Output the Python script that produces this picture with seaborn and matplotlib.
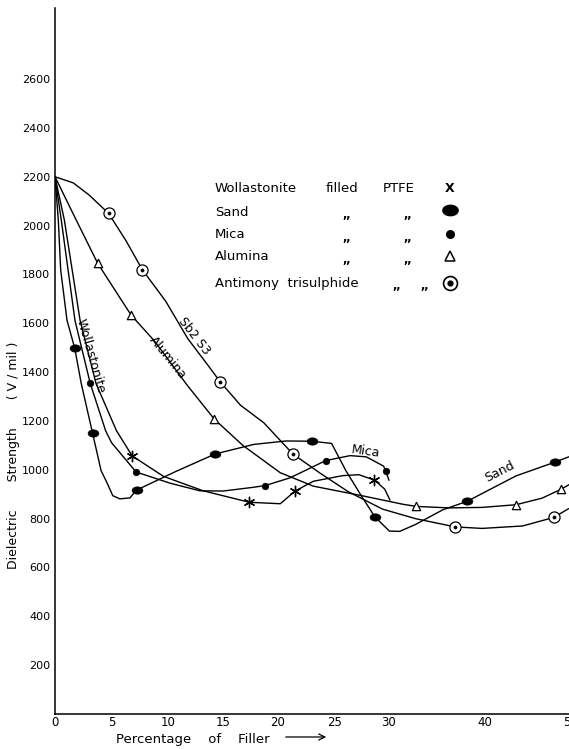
import numpy as np
import pandas as pd
import matplotlib
matplotlib.use("Agg")
import matplotlib.pyplot as plt
import seaborn as sns
from matplotlib.path import Path

# ---------------- data ----------------
x_ticks = [0, 5, 10, 15, 20, 25, 30, 35, 40, 45, 50]
x_tick_labels = ["0", "5", "10", "15", "20", "25", "30", "", "40", "", "50"]
y_ticks = [200, 400, 600, 800, 1000, 1200, 1400, 1600, 1800, 2000, 2200, 2400, 2600]
y_tick_labels = [str(v) for v in y_ticks]

# Antimony trisulphide (Sb2 S3)
sb_curve_x = [0, 1.6, 3.0, 4.7, 6.25, 7.7, 9.8, 11.8, 13.6, 14.75, 16.6, 18.7, 21.3, 23.7,
              26.2, 29.4, 32.7, 36.85, 39.7, 44.0, 47.8, 49.7]
sb_curve_y = [2200, 2175, 2125, 2050, 1938, 1820, 1690, 1537, 1430, 1360, 1264, 1193, 1065, 986,
              911, 839, 800, 766, 760, 770, 805, 841]
sb_mark_x = [4.7, 7.7, 14.75, 21.3, 36.85, 47.8]
sb_mark_y = [2050, 1820, 1360, 1065, 766, 805]

# Alumina
al_curve_x = [0, 1.87, 3.75, 6.7, 8.8, 11.7, 14.2, 16.8, 20.2, 23.1, 27.6, 31.4, 32.8, 36.2,
              39.7, 43.3, 46.3, 48.7, 49.8]
al_curve_y = [2200, 2022, 1845, 1634, 1527, 1349, 1208, 1100, 988, 933, 893, 859, 850, 844,
              846, 857, 884, 920, 940]
al_mark_x = [3.75, 6.7, 14.2, 32.8, 43.3, 48.7]
al_mark_y = [1845, 1634, 1208, 850, 857, 920]

# Sand
sa_curve_x = [0, 0.29, 0.5, 1.05, 1.73, 2.3, 3.3, 4.04, 4.6, 5.07, 5.7, 6.6, 7.2, 10.7, 14.3,
              17.8, 20.7, 23.0, 24.7, 26.0, 27.5, 28.7, 30.04, 31.1, 32.7, 35.5, 38.1, 43.3,
              47.9, 49.8]
sa_curve_y = [2200, 2023, 1818, 1613, 1498, 1354, 1149, 997, 943, 894, 881, 885, 917, 993, 1065,
              1104, 1118, 1117, 1108, 997, 889, 807, 749, 748, 776, 836, 871, 975, 1031, 1054]
sa_mark_x = [1.73, 3.3, 7.2, 14.3, 23.0, 28.7, 38.1, 47.9]
sa_mark_y = [1498, 1149, 917, 1065, 1117, 807, 871, 1031]

# Mica
mi_curve_x = [0, 0.55, 1.75, 3.09, 4.44, 4.96, 7.15, 10.2, 12.9, 15.0, 17.7, 18.8, 21.05, 24.2,
              26.4, 27.9, 29.5, 29.7, 30.0]
mi_curve_y = [2200, 2023, 1612, 1354, 1160, 1111, 991, 945, 914, 913, 928, 935, 967, 1038,
              1058, 1053, 1015, 995, 957]
mi_mark_x = [3.09, 7.15, 18.8, 24.2, 29.7]
mi_mark_y = [1354, 991, 935, 1038, 995]

# Wollastonite
wo_curve_x = [0, 0.82, 2.2, 3.6, 5.4, 6.8, 9.6, 13.2, 17.4, 20.2, 21.5, 23.1, 25.7, 27.2,
              28.65, 29.6, 30.1]
wo_curve_y = [2200, 2023, 1612, 1353, 1160, 1057, 973, 914, 867, 861, 913, 953, 976, 980,
              958, 921, 876]
wo_mark_x = [6.8, 17.4, 21.5, 28.65]
wo_mark_y = [1057, 867, 913, 958]

legend_names = ["Wollastonite", "Sand", "Mica", "Alumina", "Antimony  trisulphide"]

# ---------------- styling ----------------
sns.set_theme(style="white")
plt.rcParams["font.family"] = ["DejaVu Sans"]

W, H = 569, 749
fig = plt.figure(figsize=(W / 100, H / 100), dpi=100)
fig.patch.set_facecolor("white")

# hand-drawn, non-uniform x axis: pixel position of each tick mark
tick_px = np.array([55, 112, 168, 223, 278, 335, 389, 438, 485, 532, 571], float)
TX = np.array(x_ticks, float)


def fwd(x):
    x = np.asarray(x, float)
    y = np.interp(x, TX, tick_px)
    y = np.where(x < TX[0], tick_px[0] + (x - TX[0]) * (tick_px[1] - tick_px[0]) / (TX[1] - TX[0]), y)
    y = np.where(x > TX[-1], tick_px[-1] + (x - TX[-1]) * (tick_px[-1] - tick_px[-2]) / (TX[-1] - TX[-2]), y)
    return y


def inv(p):
    p = np.asarray(p, float)
    x = np.interp(p, tick_px, TX)
    x = np.where(p < tick_px[0], TX[0] + (p - tick_px[0]) * (TX[1] - TX[0]) / (tick_px[1] - tick_px[0]), x)
    x = np.where(p > tick_px[-1], TX[-1] + (p - tick_px[-1]) * (TX[-1] - TX[-2]) / (tick_px[-1] - tick_px[-2]), x)
    return x


x0_px, x1_px = 55, 571
y0_px, y1_px = 714, 8
ax = fig.add_axes([x0_px / W, (H - y0_px) / H, (x1_px - x0_px) / W, (y0_px - y1_px) / H])
ax.set_facecolor("white")
ax.set_xscale("function", functions=(fwd, inv))
ax.set_xlim(0, 50)
ax.set_ylim(0, (y0_px - y1_px) / 0.2442)

for s in ["top", "right"]:
    ax.spines[s].set_visible(False)
for s in ["left", "bottom"]:
    ax.spines[s].set_color("black")
    ax.spines[s].set_linewidth(1.1)

ax.set_xticks(x_ticks)
ax.set_xticklabels(x_tick_labels)
ax.set_yticks(y_ticks)
ax.set_yticklabels(y_tick_labels)
ax.tick_params(axis="x", direction="in", length=5, width=1, pad=1.5, labelsize=8.5, colors="black")
ax.tick_params(axis="y", direction="in", length=9, width=1, pad=3.5, labelsize=8, colors="black")
ax.set_xlabel("")
ax.set_ylabel("")

LW = 1.0
curves = [(sb_curve_x, sb_curve_y), (al_curve_x, al_curve_y), (sa_curve_x, sa_curve_y),
          (mi_curve_x, mi_curve_y), (wo_curve_x, wo_curve_y)]
for cx, cy in curves:
    sns.lineplot(x=cx, y=cy, sort=False, estimator=None, color="black", linewidth=LW, ax=ax)

t = np.linspace(0, 2 * np.pi, 40)
ellipse = Path(np.column_stack([np.cos(t), 0.68 * np.sin(t)]), closed=True)
asterisk = (6, 2, 0)

# markers
sns.scatterplot(x=sb_mark_x, y=sb_mark_y, marker="o", s=64, facecolor="white", edgecolor="black",
                linewidth=0.9, ax=ax, zorder=5)
sns.scatterplot(x=sb_mark_x, y=sb_mark_y, marker="o", s=5, color="black", edgecolor="black",
                linewidth=0.5, ax=ax, zorder=6)
sns.scatterplot(x=al_mark_x, y=al_mark_y, marker="^", s=36, facecolor="white", edgecolor="black",
                linewidth=0.9, ax=ax, zorder=5)
sns.scatterplot(x=sa_mark_x, y=sa_mark_y, marker=ellipse, s=60, color="black", edgecolor="black",
                linewidth=0.5, ax=ax, zorder=5)
sns.scatterplot(x=mi_mark_x, y=mi_mark_y, marker="o", s=22, color="black", edgecolor="black",
                linewidth=0.5, ax=ax, zorder=5)
sns.scatterplot(x=wo_mark_x, y=wo_mark_y, marker=asterisk, s=55, color="black", edgecolor="black",
                linewidth=1.0, ax=ax, zorder=5)


def ftext(px, py, s, **kw):
    kw.setdefault("fontsize", 9)
    kw.setdefault("color", "black")
    return fig.text(px / W, 1 - py / H, s, **kw)


# axis titles
ftext(14, 455, "Dielectric       Strength       ( V / mil )", rotation=90, ha="center",
      va="center", fontsize=9)
ftext(116, 740, "Percentage    of    Filler", ha="left", va="center", fontsize=9.5)
ax.annotate("", xy=(329 / W, 1 - 737 / H), xytext=(283 / W, 1 - 737 / H), xycoords="figure fraction",
            textcoords="figure fraction",
            arrowprops=dict(arrowstyle="->", color="black", lw=0.9, mutation_scale=11))

# curve labels
ftext(91, 356, "Wollastonite", rotation=-74, ha="center", va="center", rotation_mode="anchor")
ftext(168, 358, "Alumina", rotation=-51, ha="center", va="center", rotation_mode="anchor")
ftext(194, 336, "Sb2 S3", rotation=-52, ha="center", va="center", rotation_mode="anchor")
ftext(366, 452, "Mica", rotation=-8, ha="center", va="center", rotation_mode="anchor")
ftext(500, 472, "Sand", rotation=27, ha="center", va="center", rotation_mode="anchor")

# legend block
rows_y = [188, 212, 235, 257, 283]
for name, ry in zip(legend_names, rows_y):
    ftext(215, ry, name, ha="left", va="center", fontsize=9.5)
ftext(326, 188, "filled", ha="left", va="center", fontsize=9.5)
ftext(383, 188, "PTFE", ha="left", va="center", fontsize=9.5)
for ry in rows_y[1:4]:
    ftext(347, ry + 3, ",,", ha="center", va="center", fontsize=8, fontweight="bold")
    ftext(408, ry + 3, ",,", ha="center", va="center", fontsize=8, fontweight="bold")
ftext(397, 286, ",,", ha="center", va="center", fontsize=8, fontweight="bold")
ftext(425, 286, ",,", ha="center", va="center", fontsize=8, fontweight="bold")
ftext(450, 188, "X", ha="center", va="center", fontsize=9, fontweight="bold")

lx = 450 / W
fig.lines.append(plt.Line2D([lx], [1 - 210 / H], transform=fig.transFigure, marker=ellipse,
                            markersize=11, color="black", linestyle="none"))
fig.lines.append(plt.Line2D([lx], [1 - 234 / H], transform=fig.transFigure, marker="o",
                            markersize=5.5, color="black", linestyle="none"))
fig.lines.append(plt.Line2D([lx], [1 - 256 / H], transform=fig.transFigure, marker="^",
                            markersize=7, markerfacecolor="white", markeredgecolor="black",
                            markeredgewidth=1.1, linestyle="none"))
fig.lines.append(plt.Line2D([lx], [1 - 283 / H], transform=fig.transFigure, marker="o",
                            markersize=10, markerfacecolor="white", markeredgecolor="black",
                            markeredgewidth=1.2, linestyle="none"))
fig.lines.append(plt.Line2D([lx], [1 - 283 / H], transform=fig.transFigure, marker="o",
                            markersize=3.5, color="black", linestyle="none"))

fig.savefig("out.png", dpi=100, facecolor="white")
